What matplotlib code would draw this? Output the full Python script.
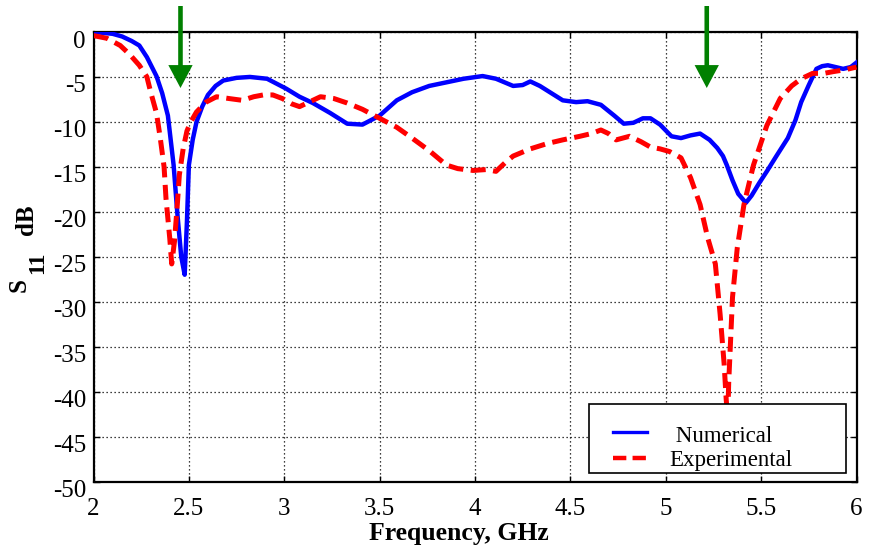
import matplotlib
matplotlib.use("Agg")
import matplotlib.pyplot as plt
import matplotlib.transforms as mtransforms
from matplotlib.lines import Line2D
from matplotlib.patches import Rectangle

plt.rcParams['font.family'] = ['Liberation Serif', 'DejaVu Serif']

# Numerical (simulated) S11
num_f = [2.0, 2.05, 2.1, 2.15, 2.2, 2.24, 2.28, 2.33, 2.36, 2.39, 2.42, 2.44, 2.46, 2.478,
         2.49, 2.50, 2.52, 2.54, 2.57, 2.60, 2.64, 2.68, 2.75, 2.82, 2.91, 3.01, 3.08,
         3.15, 3.24, 3.33, 3.41, 3.50, 3.59, 3.67, 3.76, 3.85, 3.94, 4.04, 4.11, 4.20,
         4.25, 4.29, 4.34, 4.40, 4.46, 4.53, 4.59, 4.66, 4.73, 4.78, 4.83, 4.88, 4.92,
         4.97, 5.03, 5.08, 5.13, 5.18, 5.23, 5.27, 5.30, 5.32, 5.35, 5.38, 5.42, 5.45,
         5.49, 5.53, 5.58, 5.64, 5.68, 5.71, 5.75, 5.79, 5.82, 5.85, 5.89, 5.93, 5.97, 6.0]
num_s = [0.0, -0.1, -0.2, -0.5, -1.0, -1.5, -2.8, -4.9, -6.8, -9.3, -14.8, -20.3, -25.0, -27.0,
         -21.0, -14.8, -12.0, -10.0, -8.3, -7.0, -6.0, -5.4, -5.1, -5.0, -5.2, -6.3, -7.2,
         -7.9, -9.0, -10.2, -10.3, -9.3, -7.6, -6.7, -6.0, -5.6, -5.2, -4.9, -5.2, -6.0,
         -5.9, -5.5, -6.0, -6.8, -7.6, -7.8, -7.7, -8.1, -9.3, -10.2, -10.1, -9.6, -9.6,
         -10.3, -11.6, -11.8, -11.5, -11.3, -12.0, -12.9, -13.8, -14.8, -16.5, -18.0, -19.0, -18.2,
         -16.8, -15.5, -13.8, -11.8, -9.8, -7.8, -5.9, -4.1, -3.8, -3.7, -3.9, -4.1, -3.9, -3.4]

# Experimental (measured) S11
exp_f = [2.0, 2.07, 2.14, 2.19, 2.24, 2.28, 2.30, 2.33, 2.35, 2.37, 2.38, 2.40, 2.41, 2.425,
         2.44, 2.45, 2.47, 2.49, 2.51, 2.54, 2.59, 2.645, 2.71, 2.78, 2.84, 2.89, 2.94,
         2.99, 3.04, 3.08, 3.13, 3.19, 3.26, 3.33, 3.41, 3.50, 3.59, 3.67, 3.76, 3.85,
         3.91, 3.99, 4.06, 4.11, 4.16, 4.20, 4.29, 4.38, 4.46, 4.55, 4.61, 4.66, 4.70,
         4.74, 4.81, 4.87, 4.92, 4.97, 5.02, 5.08, 5.13, 5.18, 5.22, 5.26, 5.285, 5.306,
         5.317, 5.325, 5.33, 5.35, 5.375, 5.41, 5.46, 5.53, 5.60, 5.66, 5.71, 5.77,
         5.83, 5.88, 5.94, 6.0]
exp_s = [-0.4, -0.7, -1.5, -2.5, -3.7, -5.0, -6.7, -9.0, -11.8, -15.0, -18.5, -23.0, -25.8, -23.2,
         -19.0, -15.9, -13.0, -11.0, -10.0, -8.9, -7.8, -7.2, -7.4, -7.6, -7.2, -7.0, -7.0,
         -7.4, -8.0, -8.3, -7.8, -7.2, -7.4, -7.9, -8.6, -9.6, -10.6, -11.8, -13.2, -14.8,
         -15.2, -15.4, -15.3, -15.5, -14.5, -13.8, -13.0, -12.4, -12.0, -11.6, -11.3, -10.9, -11.3,
         -12.0, -11.6, -12.2, -12.8, -13.0, -13.3, -14.0, -16.2, -19.2, -22.9, -25.8, -31.4, -36.9,
         -40.9, -43.0, -39.0, -29.5, -24.0, -19.2, -14.8, -10.4, -7.4, -6.0, -5.2, -4.6,
         -4.6, -4.4, -4.2, -3.9]

x_ticks = [2, 2.5, 3, 3.5, 4, 4.5, 5, 5.5, 6]
x_tick_labels = ['2', '2.5', '3', '3.5', '4', '4.5', '5', '5.5', '6']
y_ticks = [0, -5, -10, -15, -20, -25, -30, -35, -40, -45, -50]
y_tick_labels = ['0', '-5', '-10', '-15', '-20', '-25', '-30', '-35', '-40', '-45', '-50']
arrow_f = [2.456, 5.215]
legend_labels = [' Numerical', 'Experimental']

W, H = 869, 548
fig = plt.figure(figsize=(W / 100, H / 100), dpi=100)
L, R, T, B = 93.5, 856.5, 32.0, 481.5
ax = fig.add_axes([L / W, 1 - B / H, (R - L) / W, (B - T) / H])

def axfrac(px, py):
    return ((px - L) / (R - L), (B - py) / (B - T))

BLUE = '#0000ff'
RED = '#ff0000'
ax.plot(num_f, num_s, color=BLUE, lw=3.2, solid_joinstyle='round', zorder=3)
ax.plot(exp_f, exp_s, color=RED, lw=3.6, dashes=(3.0, 1.5), zorder=4)

ax.set_xlim(2, 6)
ax.set_ylim(-50, 0)
ax.set_xticks(x_ticks)
ax.set_xticklabels(x_tick_labels)
ax.set_yticks(y_ticks)
ax.set_yticklabels(y_tick_labels)
ax.tick_params(direction='in', length=4, width=1, labelsize=18, top=True, right=True)
ax.tick_params(axis='x', pad=12)
ax.tick_params(axis='y', pad=5.4)
ax.grid(True, color='black', linestyle=(0, (1, 2.2)), linewidth=0.9)
for sp in ax.spines.values():
    sp.set_linewidth(1.6)

off = mtransforms.ScaledTranslation(0, -7 / 100, fig.dpi_scale_trans)
for lab in ax.get_yticklabels():
    lab.set_transform(lab.get_transform() + off)

# x label
fig.text(459 / W, 1 - 540 / H, 'Frequency, GHz', fontsize=18.5, fontweight='bold',
         ha='center', va='baseline')
# y label: S_11 dB
fig.text(26 / W, 1 - 292 / H, 'S', fontsize=18, fontweight='bold', rotation=90,
         rotation_mode='anchor', ha='left', va='baseline')
fig.text(43 / W, 1 - 274 / H, '11', fontsize=17, fontweight='bold', rotation=90,
         rotation_mode='anchor', ha='left', va='baseline')
fig.text(33 / W, 1 - 235 / H, 'dB', fontsize=18, fontweight='bold', rotation=90,
         rotation_mode='anchor', ha='left', va='baseline')

# arrows marking design frequencies
for f in arrow_f:
    ax.annotate('', xy=(f, -(88 - T) / 8.99), xytext=(f, (T - 6) / 8.99), xycoords='data',
                annotation_clip=False,
                arrowprops=dict(width=3.3, headwidth=17.5, headlength=16.5,
                                facecolor='#008000', edgecolor='#008000', lw=0,
                                shrink=0))

# legend box (MATLAB style)
x0, y1 = axfrac(589, 404)
x1, y0 = axfrac(846, 472.5)
ax.add_patch(Rectangle((x0, y0), x1 - x0, y1 - y0, transform=ax.transAxes,
                       facecolor='white', edgecolor='black', lw=1.2, zorder=10,
                       clip_on=False))
hx0, hy = axfrac(613, 432)
hx1, _ = axfrac(647, 432)
ax.add_line(Line2D([hx0, hx1], [hy, hy], transform=ax.transAxes, color=BLUE, lw=2.4,
                   zorder=11))
hx0, hy2 = axfrac(613, 458)
hx1, _ = axfrac(646, 458)
ax.add_line(Line2D([hx0, hx1], [hy2, hy2], transform=ax.transAxes, color=RED, lw=3.2,
                   dashes=(3.0, 1.4), zorder=11))
tx, ty = axfrac(670, 442)
ax.text(tx, ty, legend_labels[0], transform=ax.transAxes, fontsize=16.5, va='baseline',
        ha='left', zorder=12)
tx, ty = axfrac(669, 466)
ax.text(tx, ty, legend_labels[1], transform=ax.transAxes, fontsize=16.5, va='baseline',
        ha='left', zorder=12)

fig.savefig('out.png', dpi=100)
